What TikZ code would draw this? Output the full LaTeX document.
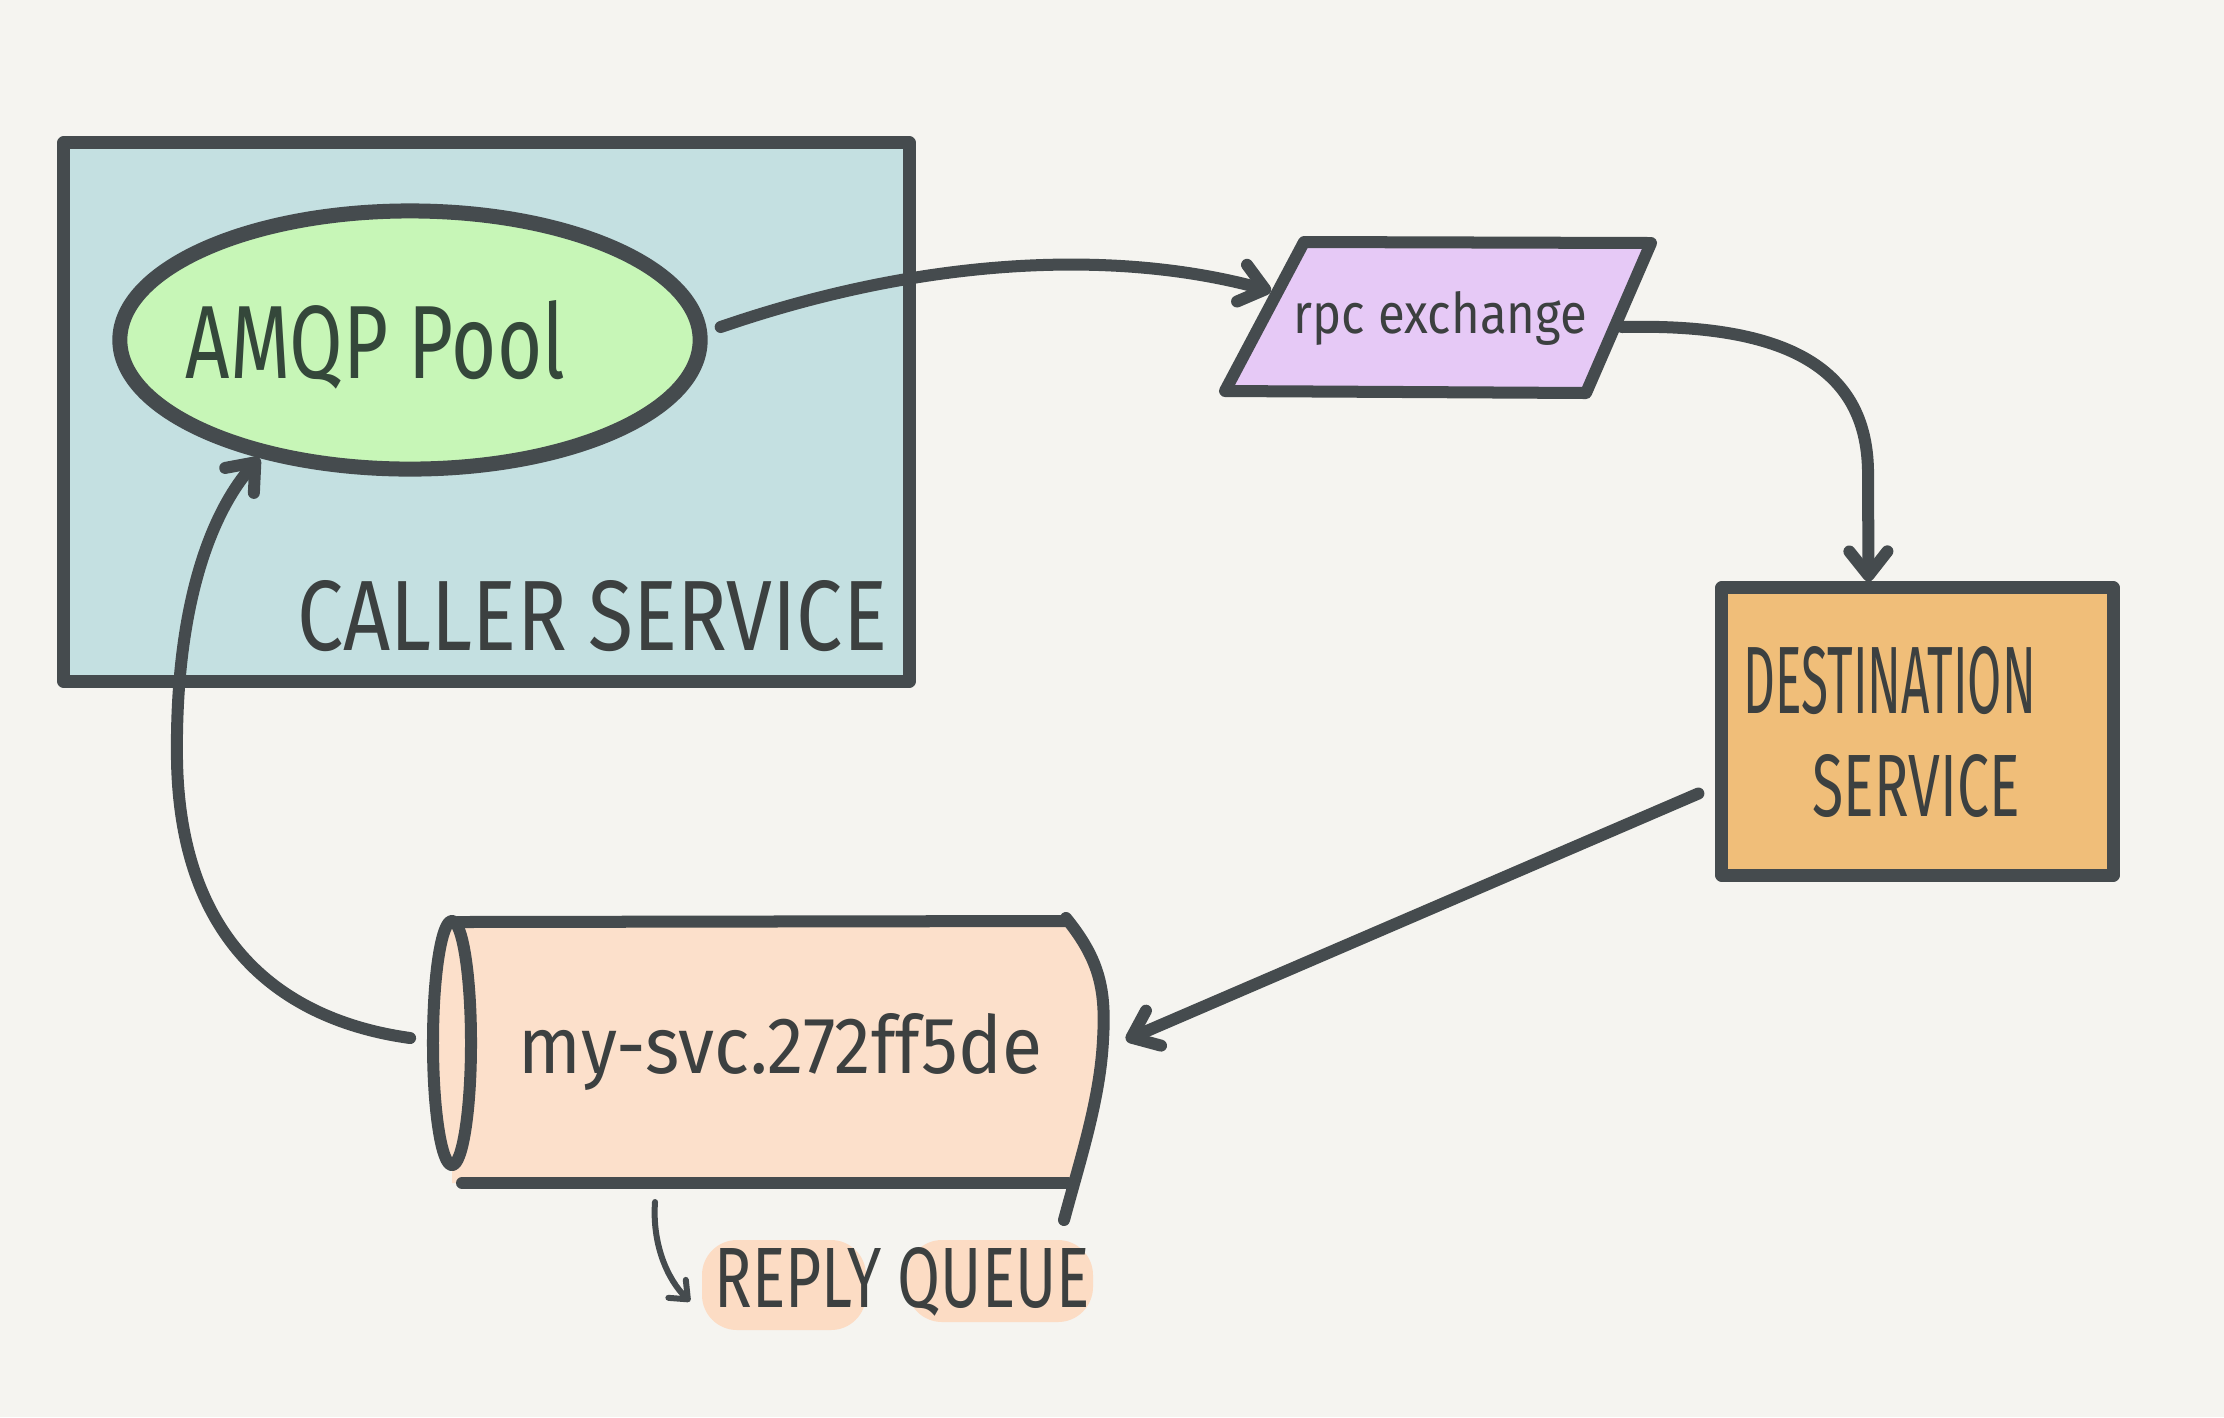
\documentclass[tikz,border=0pt]{standalone}
\usepackage{fontspec}
\setmainfont{Fira Sans}
\usetikzlibrary{arrows.meta,shapes.geometric,calc}
\definecolor{bg}{HTML}{F5F4F0}
\definecolor{ink}{HTML}{454B4E}
\definecolor{txt}{HTML}{3C4040}
\definecolor{pooltxt}{HTML}{34473A}
\definecolor{callerfill}{HTML}{C4E0E1}
\definecolor{poolfill}{HTML}{C7F6B7}
\definecolor{rpcfill}{HTML}{E6C9F6}
\definecolor{destfill}{HTML}{F0BE79}
\definecolor{queuefill}{HTML}{FCE0CB}
\definecolor{hl}{HTML}{FCDCC4}
\begin{document}
\begin{tikzpicture}[x=0.01cm,y=-0.01cm,
  box/.style={draw=ink, line width=0.13cm, line join=round, rectangle, inner sep=0},
  conn/.style={draw=ink, line width=0.12cm, line cap=round, -{Straight Barb[length=0.24cm,width=0.38cm,round]}},
  stroke/.style={draw=ink, line width=0.12cm, line cap=round, line join=round},
  lbl/.style={anchor=base west, inner sep=0, text=txt}]
\fill[bg] (0,0) rectangle (2224,1417);
\useasboundingbox (0,0) rectangle (2224,1417);

% caller service
\node[box, fill=callerfill, minimum width=8.45cm, minimum height=5.38cm] (caller) at (486.5,412) {};
\node[draw=ink, line width=0.15cm, fill=poolfill, ellipse, inner sep=0, minimum width=5.8cm, minimum height=2.58cm] (pool) at (410,340) {};
\node[lbl, text=pooltxt] (pooltext) at (185,378) {\resizebox{3.79cm}{0.78cm}{AMQP Pool}};
\node[lbl] (callertext) at (297,650) {\resizebox{5.89cm}{0.70cm}{CALLER SERVICE}};

% rpc exchange (parallelogram)
\draw[stroke, fill=rpcfill] (1304,242) -- (1651,243) -- (1586,393) -- (1225,391) -- cycle;
\node[inner sep=0, minimum width=3.6cm, minimum height=1.5cm] (rpc) at (1438,317) {};
\coordinate (rpcin) at (1271,291);
\coordinate (rpcout) at (1622,327);
\node[lbl] (rpctext) at (1293,333) {\resizebox{2.93cm}{0.42cm}{rpc exchange}};

% destination service
\node[box, fill=destfill, minimum width=3.91cm, minimum height=2.87cm] (dest) at (1917.5,731.5) {};
\node[lbl] (desttext1) at (1743,713) {\resizebox{2.92cm}{0.67cm}{DESTINATION}};
\node[lbl] (desttext2) at (1812,816) {\resizebox{2.07cm}{0.62cm}{SERVICE}};

% reply queue (cylinder)
\node[inner sep=0, minimum width=6.7cm, minimum height=2.62cm] (queue) at (769,1052) {};
\fill[queuefill] (452,921) -- (1066,921) .. controls (1100,960) and (1106,990) .. (1103,1040) .. controls (1100,1100) and (1085,1150) .. (1072,1183) -- (452,1183) -- cycle;
\draw[stroke, fill=queuefill] (452,1043) ellipse [x radius=0.19cm, y radius=1.22cm];
\draw[stroke] (458,922) -- (1066,921);
\draw[stroke] (462,1183) -- (1068,1183);
\draw[stroke] (1066,918) .. controls (1100,960) and (1106,990) .. (1103,1040) .. controls (1100,1100) and (1080,1160) .. (1064,1220);
\node[lbl] (queuetext) at (518,1073) {\resizebox{5.23cm}{0.60cm}{my-svc.272ff5de}};

% reply queue label
\fill[hl, rounded corners=0.35cm] (702,1240) rectangle (866,1330);
\fill[hl, rounded corners=0.35cm] (907,1240) rectangle (1093,1322);
\node[lbl] (rq) at (714,1307) {\resizebox{3.75cm}{0.60cm}{REPLY QUEUE}};
\coordinate (rqs) at (655,1202);
\draw[draw=ink, line width=0.06cm, line cap=round, -{Straight Barb[length=0.15cm,width=0.25cm,round]}] (rqs) .. controls (652,1245) and (668,1280) .. ($(rq.west)+(-24,20)$);

% connectors
\draw[conn] ($(pool.east)+(13,-13)$) .. controls (930,255) and (1120,250) .. (rpcin);
\draw[conn] (rpcout) .. controls (1790,323) and (1866,370) .. (1868,470) -- ($(dest.north)+(-49,0)$);
\draw[conn] ($(dest.west)+(-17,62)$) -- ($(queue.east)+(21,-12)$);
\draw[conn] ($(queue.west)+(-23,-14)$) .. controls (280,1020) and (180,940) .. (177,760) .. controls (175,620) and (205,520) .. (pool.218);
\end{tikzpicture}
\end{document}
